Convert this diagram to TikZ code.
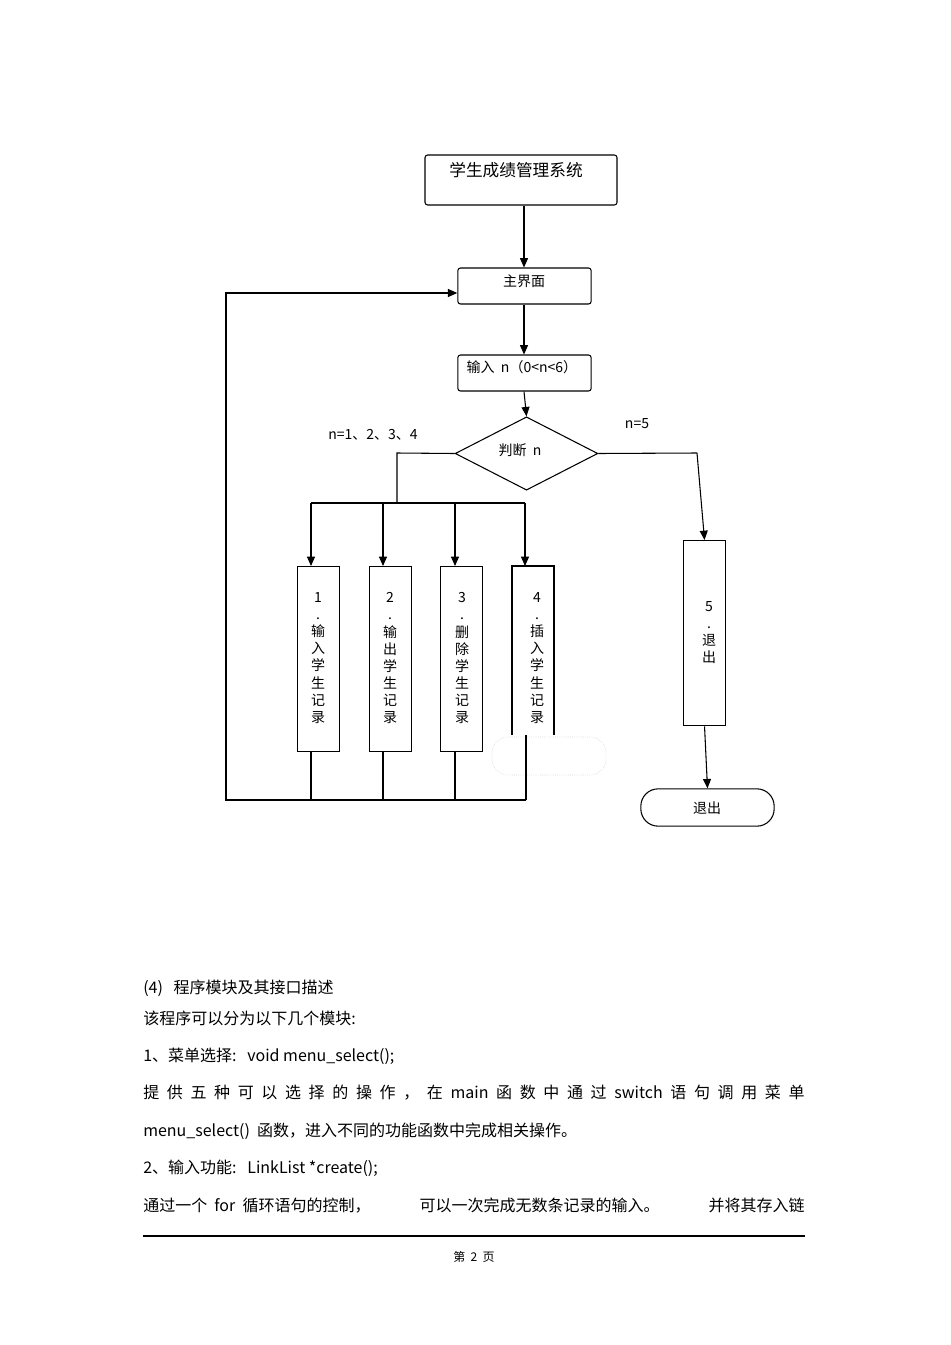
\documentclass[tikz,border=0pt]{standalone}
\usepackage{fontspec}
\setmainfont{Noto Sans CJK SC}
\usetikzlibrary{shapes.geometric,arrows.meta}
\begin{document}
\begin{tikzpicture}[x=0.75pt,y=-0.75pt,
  box/.style={draw,thick,rounded corners=2pt,inner sep=0},
  col/.style={draw,thick,inner sep=0},
  arr/.style={thick,-{Triangle[length=7pt,width=6pt]}},
  ln/.style={thick},
  small/.style={font=\fontsize{10.5}{12.8}\selectfont},
  body/.style={font=\fontsize{12}{14}\selectfont,anchor=west,inner sep=0}]
\useasboundingbox (0,0) rectangle (950,1345);
\node[box,minimum width=144pt,minimum height=37.5pt] (t) at (521,180) {};
\node[font=\fontsize{12.5}{14}\selectfont] at (516,170) {学生成绩管理系统};
\node[box,minimum width=100pt,minimum height=27pt] (m) at (524.5,286) {};
\node[small] at (524,281) {主界面};
\node[box,minimum width=100pt,minimum height=27pt] (in) at (524.5,373) {};
\node[small,anchor=west] at (462,367) {输入\ \ n（0<n<6）};
\node[draw,thick,diamond,aspect=1.96,minimum width=107pt,minimum height=55pt,inner sep=0] (d) at (526.5,453.5) {};
\node[small] at (520,450) {判断\ \ n};
\node[small] at (373,435) {n=1、2、3、4};
\node[small] at (637,424) {n=5};
\draw[arr] (t.south -| 524,0) -- (m.north -| 524,0);
\draw[arr] (m.south -| 524,0) -- (in.north -| 524,0);
\draw[arr] (in.south -| 524,0) -- (d.north);
% columns
\node[col,minimum width=31.5pt,minimum height=139pt,anchor=north west] (c1) at (297,566) {};
\node[col,minimum width=31.5pt,minimum height=139pt,anchor=north west] (c2) at (369,566) {};
\node[col,minimum width=31.5pt,minimum height=139pt,anchor=north west] (c3) at (440,566) {};
\coordinate (c4tl) at (512,566); \coordinate (c4tr) at (554,566);
\draw[ln] (512,735) -- (c4tl) -- (c4tr) -- (554,735);
\draw[densely dotted,gray!40,rounded corners=12pt] (492,737) rectangle (606,775);
\node[col,minimum width=31.5pt,minimum height=139pt,anchor=north west] (c5) at (683,540) {};
\node[small,align=center,anchor=north] at (318,588) {1\\.\\输\\入\\学\\生\\记\\录};
\node[small,align=center,anchor=north] at (390,588) {2\\.\\输\\出\\学\\生\\记\\录};
\node[small,align=center,anchor=north] at (462,588) {3\\.\\删\\除\\学\\生\\记\\录};
\node[small,align=center,anchor=north] at (537,588) {4\\.\\插\\入\\学\\生\\记\\录};
\node[small,align=center,anchor=north] at (709,597) {5\\.\\退\\出};
\node[draw,thick,rounded corners=13pt,minimum width=100pt,minimum height=28pt,inner sep=0] (q) at (707.5,807.5) {};
\node[small] at (707,808) {退出};
% branches
\coordinate (jl) at (397,453); \coordinate (jb) at (397,503);
\draw[ln] (d.west) -- (jl) -- (jb);
\draw[ln] (311,503) -- (525,503);
\draw[arr] (311,503) -- (c1.north -| 311,0);
\draw[arr] (383,503) -- (c2.north -| 383,0);
\draw[arr] (455,503) -- (c3.north -| 455,0);
\draw[arr] (525,503) -- (c4tl -| 525,0);
\coordinate (jr) at (697,453);
\draw[ln] (d.east) -- (jr);
\draw[arr] (jr) -- (c5.north);
\draw[arr] (c5.south) -- (q.north);
% loop back
\draw[ln] (c1.south -| 311,0) -- (311,800);
\draw[ln] (c2.south -| 383,0) -- (383,800);
\draw[ln] (c3.south -| 455,0) -- (455,800);
\draw[ln] (526,735) -- (526,800);
\coordinate (lb) at (226,800); \coordinate (lt) at (226,293);
\draw[arr] (526,800) -- (lb) -- (lt) -- (m.west |- 0,293);
% text
\node[body] at (143,988) {(4)\ \ \ 程序模块及其接口描述};
\node[body] at (143,1018) {该程序可以分为以下几个模块:};
\node[body] at (143,1056) {1、菜单选择:\ \ \ void menu\_select();};
\node[body] at (143,1093) {\hbox to 496pt{提\hfill 供\hfill 五\hfill 种\hfill 可\hfill 以\hfill 选\hfill 择\hfill 的\hfill 操\hfill 作\hfill ，\hfill 在\hfill main\hfill 函\hfill 数\hfill 中\hfill 通\hfill 过\hfill switch\hfill 语\hfill 句\hfill 调\hfill 用\hfill 菜\hfill 单}};
\node[body] at (143,1131) {menu\_select()\ \ 函数，进入不同的功能函数中完成相关操作。};
\node[body] at (143,1168) {2、输入功能:\ \ \ LinkList *create();};
\node[body] at (143,1206) {\hbox to 496pt{通过一个\ \ for\ \ 循环语句的控制，\hfill 可以一次完成无数条记录的输入。\hfill 并将其存入链}};
\draw[thick] (143,1236) -- (805,1236);
\node[font=\fontsize{9}{10}\selectfont] at (474,1257) {第\ \ 2\ \ 页};
\end{tikzpicture}
\end{document}
